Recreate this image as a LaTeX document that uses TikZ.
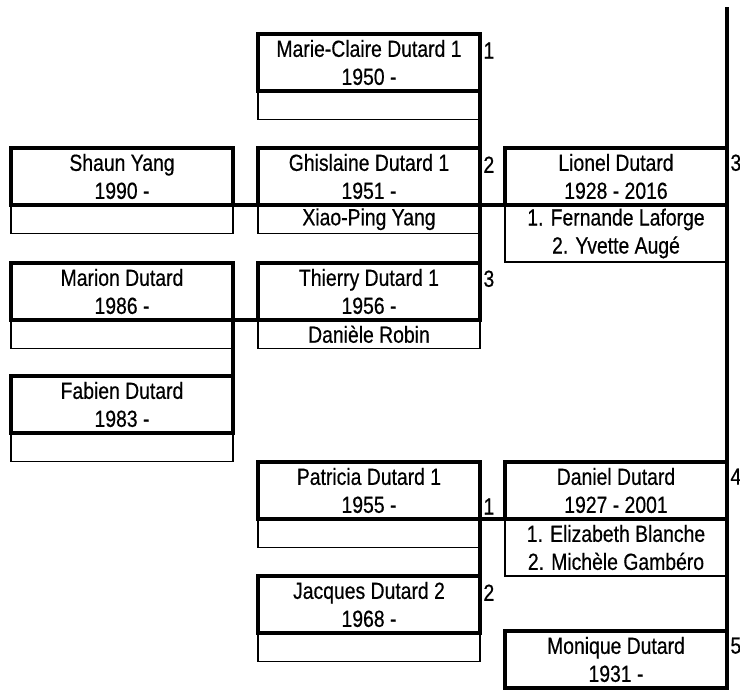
\documentclass[tikz,border=0pt]{standalone}
\usepackage{fontspec}
\setmainfont[FakeStretch=0.83,FakeBold=0.5]{Liberation Sans}

\tikzset{every picture/.style={line width=0.75pt}}
\tikzset{
  person/.style={draw, line width=2.4pt, anchor=north west, inner sep=0pt, outer sep=0pt,
    minimum width=166.5pt, minimum height=42.75pt, align=center, font=\fontsize{17.5}{21}\selectfont},
  spouse/.style={draw, line width=0.8pt, anchor=north west, inner sep=0pt, outer sep=0pt,
    minimum width=166.5pt, minimum height=21.4pt, align=center, font=\fontsize{17.5}{21}\selectfont},
  spouses/.style={spouse, minimum height=42.75pt},
  rank/.style={anchor=north west, inner sep=0pt, font=\fontsize{17.5}{21}\selectfont},
  kin/.style={line width=2.4pt},
  union/.style={line width=3.6pt},
}

\begin{document}
\begin{tikzpicture}[x=0.75pt,y=0.75pt,yscale=-1,xscale=1]
\useasboundingbox (0,0) rectangle (740,690);

% Persons, middle column
\node[person] (marie) at (258,34) {Marie-Claire Dutard 1\\1950 -};
\node[spouse] (mariesp) at (marie.south west) {};
\node[person] (ghislaine) at (258,148) {Ghislaine Dutard 1\\1951 -};
\node[spouse] (ghislainesp) at (ghislaine.south west) {Xiao-Ping Yang};
\node[person] (thierry) at (258,263) {Thierry Dutard 1\\1956 -};
\node[spouse] (thierrysp) at (thierry.south west) {Danièle Robin};
\node[person] (patricia) at (258,462) {Patricia Dutard 1\\1955 -};
\node[spouse] (patriciasp) at (patricia.south west) {};
\node[person] (jacques) at (258,576) {Jacques Dutard 2\\1968 -};
\node[spouse] (jacquessp) at (jacques.south west) {};

% Persons, left column
\node[person] (shaun) at (11,148) {Shaun Yang\\1990 -};
\node[spouse] (shaunsp) at (shaun.south west) {};
\node[person] (marion) at (11,263) {Marion Dutard\\1986 -};
\node[spouse] (marionsp) at (marion.south west) {};
\node[person] (fabien) at (11,376) {Fabien Dutard\\1983 -};
\node[spouse] (fabiensp) at (fabien.south west) {};

% Persons, right column
\node[person] (lionel) at (505,148) {Lionel Dutard\\1928 - 2016};
\node[spouses] (lionelsp) at (lionel.south west) {1. Fernande Laforge\\2. Yvette Augé};
\node[person] (daniel) at (505,462) {Daniel Dutard\\1927 - 2001};
\node[spouses] (danielsp) at (daniel.south west) {1. Elizabeth Blanche\\2. Michèle Gambéro};
\node[person] (monique) at (505,631) {Monique Dutard\\1931 -};

% Sibling lines
\coordinate (root) at (727,7);
\draw[kin] (root) -- (monique.north east);
\draw[kin] (marie.south east) -- (thierry.north east);
\draw[kin] (marion.south east) -- (fabien.north east);
\draw[kin] (patricia.south east) -- (jacques.north east);

% Parent lines
\draw[union] (shaun.south east) -- (ghislaine.south west);
\draw[union] (ghislaine.south east) -- (lionel.south west);
\draw[union] (marion.south east) -- (thierry.south west);
\draw[union] (patricia.south east) -- (daniel.south west);

% Ranks
\node[rank] (rmarie) at ([shift={(3,8)}]marie.north east) {1};
\node[rank] (rghislaine) at ([shift={(3,8)}]ghislaine.north east) {2};
\node[rank] (rthierry) at ([shift={(3,7)}]thierry.north east) {3};
\node[rank, anchor=south west] (rpatricia) at ([shift={(3,-4)}]patricia.south east) {1};
\node[rank] (rjacques) at ([shift={(3,8)}]jacques.north east) {2};
\node[rank] (rlionel) at ([shift={(3,6)}]lionel.north east) {3};
\node[rank] (rdaniel) at ([shift={(3,6)}]daniel.north east) {4};
\node[rank] (rmonique) at ([shift={(3,6)}]monique.north east) {5};

\end{tikzpicture}
\end{document}
